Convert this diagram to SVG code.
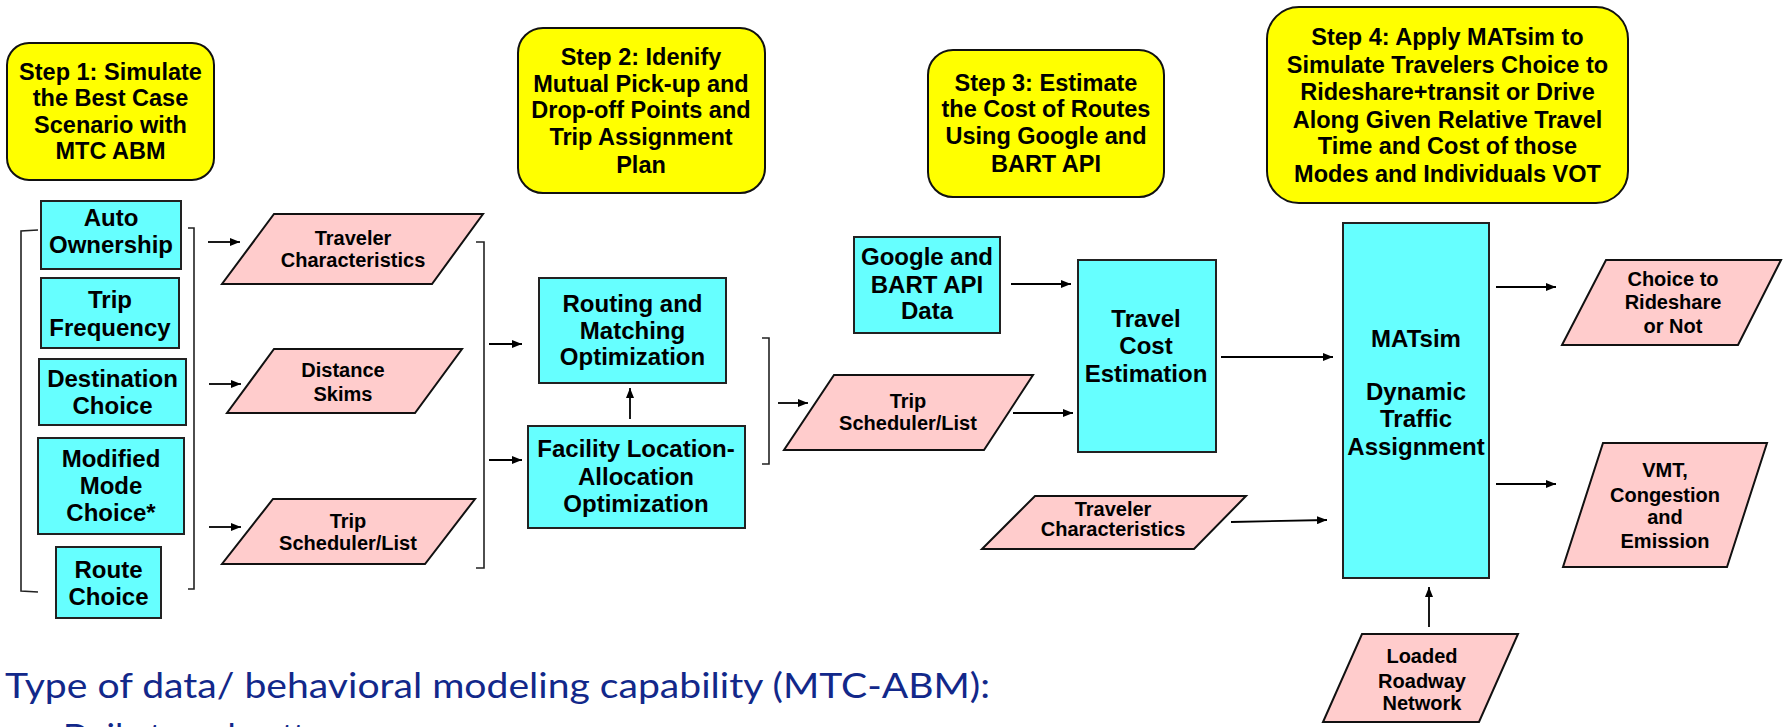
<svg xmlns="http://www.w3.org/2000/svg" width="1783" height="727" viewBox="0 0 1783 727">
<style>
.step{fill:#FFFF00;stroke:#111;stroke-width:2}
.box{fill:#66FFFF;stroke:#222;stroke-width:2}
.para{fill:#FFCCCC;stroke:#111;stroke-width:2}
.t{font-family:"Liberation Sans",Arial,sans-serif;font-weight:bold;font-size:24px;fill:#000;text-anchor:middle}
.ts{font-family:"Liberation Sans",Arial,sans-serif;font-weight:bold;font-size:23.5px;fill:#000;text-anchor:middle}
.tp{font-family:"Liberation Sans",Arial,sans-serif;font-weight:bold;font-size:20px;fill:#000;text-anchor:middle}
.conn{stroke:#000;stroke-width:1.8;fill:none}
.brk{stroke:#222;stroke-width:1.6;fill:none}
.note{font-family:Lato,"Open Sans",sans-serif;font-size:35px;fill:#12288a}
</style>
<defs>
<marker id="ah" markerWidth="10" markerHeight="8" refX="10" refY="4" orient="auto" markerUnits="userSpaceOnUse">
<path d="M0,0 L10,4 L0,8 Z" fill="#000"/>
</marker>
</defs>

<g id="step1"><rect class="step" x="7" y="43" width="207" height="137" rx="22"/>
<text class="ts" x="110.5" y="80">Step 1: Simulate</text><text class="ts" x="110.5" y="106">the Best Case</text><text class="ts" x="110.5" y="133">Scenario with</text><text class="ts" x="110.5" y="159">MTC ABM</text></g>

<g id="step2"><rect class="step" x="518" y="28" width="247" height="165" rx="25"/>
<text class="ts" x="641" y="65">Step 2: Idenify</text><text class="ts" x="641" y="92">Mutual Pick-up and</text><text class="ts" x="641" y="118">Drop-off Points and</text><text class="ts" x="641" y="145">Trip Assignment</text><text class="ts" x="641" y="173">Plan</text></g>

<g id="step3"><rect class="step" x="928" y="50" width="236" height="147" rx="25"/>
<text class="ts" x="1046" y="91">Step 3: Estimate</text><text class="ts" x="1046" y="117">the Cost of Routes</text><text class="ts" x="1046" y="144">Using Google and</text><text class="ts" x="1046" y="172">BART  API</text></g>

<g id="step4"><rect class="step" x="1267" y="7" width="361" height="196" rx="32"/>
<text class="ts" x="1447.5" y="45">Step 4: Apply MATsim to</text><text class="ts" x="1447.5" y="73">Simulate Travelers Choice to</text><text class="ts" x="1447.5" y="100">Rideshare+transit or Drive</text><text class="ts" x="1447.5" y="128">Along Given Relative Travel</text><text class="ts" x="1447.5" y="154">Time and Cost of those</text><text class="ts" x="1447.5" y="182">Modes and Individuals VOT</text></g>

<g id="auto-ownership"><rect class="box" x="41" y="201" width="140" height="68"/>
<text class="t" x="111" y="226">Auto</text><text class="t" x="111" y="253">Ownership</text></g>
<g id="trip-frequency"><rect class="box" x="41" y="278" width="138" height="70"/>
<text class="t" x="110" y="308">Trip</text><text class="t" x="110" y="336">Frequency</text></g>
<g id="destination-choice"><rect class="box" x="39" y="359" width="147" height="66"/>
<text class="t" x="112.5" y="387">Destination</text><text class="t" x="112.5" y="414">Choice</text></g>
<g id="mode-choice"><rect class="box" x="38" y="438" width="146" height="96"/>
<text class="t" x="111" y="467">Modified</text><text class="t" x="111" y="494">Mode</text><text class="t" x="111" y="521">Choice*</text></g>
<g id="route-choice"><rect class="box" x="56" y="547" width="105" height="71"/>
<text class="t" x="108.5" y="578">Route</text><text class="t" x="108.5" y="605">Choice</text></g>

<g id="traveler-char-1"><polygon class="para" points="274,214 483,214 432,284 222,284"/>
<text class="tp" x="353" y="245">Traveler</text><text class="tp" x="353" y="267">Characteristics</text></g>
<g id="distance-skims"><polygon class="para" points="274,349 462,349 415,413 227,413"/>
<text class="tp" x="343" y="377">Distance</text><text class="tp" x="343" y="401">Skims</text></g>
<g id="trip-scheduler-1"><polygon class="para" points="273,499 475,499 425,564 222,564"/>
<text class="tp" x="348" y="528">Trip</text><text class="tp" x="348" y="550">Scheduler/List</text></g>

<g id="routing"><rect class="box" x="539" y="278" width="187" height="105"/>
<text class="t" x="632.5" y="312">Routing and</text><text class="t" x="632.5" y="339">Matching</text><text class="t" x="632.5" y="365">Optimization</text></g>
<g id="facility"><rect class="box" x="528" y="426" width="217" height="102"/>
<text class="t" x="636" y="457">Facility Location-</text><text class="t" x="636" y="485">Allocation</text><text class="t" x="636" y="512">Optimization</text></g>

<g id="trip-scheduler-2"><polygon class="para" points="834,375 1033,375 984,450 784,450"/>
<text class="tp" x="908" y="408">Trip</text><text class="tp" x="908" y="430">Scheduler/List</text></g>

<g id="google"><rect class="box" x="854" y="237" width="146" height="96"/>
<text class="t" x="927" y="265">Google and</text><text class="t" x="927" y="293">BART  API</text><text class="t" x="927" y="319">Data</text></g>

<g id="travel-cost"><rect class="box" x="1078" y="260" width="138" height="192"/>
<text class="t" x="1146" y="327">Travel</text><text class="t" x="1146" y="354">Cost</text><text class="t" x="1146" y="382">Estimation</text></g>

<g id="traveler-char-2"><polygon class="para" points="1035,496 1246,496 1194,549 982,549"/>
<text class="tp" x="1113" y="516">Traveler</text><text class="tp" x="1113" y="536">Characteristics</text></g>

<g id="matsim"><rect class="box" x="1343" y="223" width="146" height="355"/>
<text class="t" x="1416" y="347">MATsim</text><text class="t" x="1416" y="400">Dynamic</text><text class="t" x="1416" y="427">Traffic</text><text class="t" x="1416" y="455">Assignment</text></g>

<g id="choice"><polygon class="para" points="1606,260 1781,260 1738,345 1562,345"/>
<text class="tp" x="1673" y="286">Choice to</text><text class="tp" x="1673" y="309">Rideshare</text><text class="tp" x="1673" y="333">or Not</text></g>
<g id="vmt"><polygon class="para" points="1603,443 1767,443 1727,567 1563,567"/>
<text class="tp" x="1665" y="477">VMT,</text><text class="tp" x="1665" y="502">Congestion</text><text class="tp" x="1665" y="524">and</text><text class="tp" x="1665" y="548">Emission</text></g>
<g id="loaded"><polygon class="para" points="1362,634 1518,634 1479,722 1323,722"/>
<text class="tp" x="1422" y="663">Loaded</text><text class="tp" x="1422" y="688">Roadway</text><text class="tp" x="1422" y="710">Network</text></g>

<g id="connectors">
<path class="brk" d="M38,230 L21,231 L21,591 L38,592"/>
<path class="brk" d="M188,228 L194,228 L194,589 L188,589"/>
<path class="brk" d="M476,242 L484,242 L484,568 L476,568"/>
<path class="brk" d="M762,338 L769,338 L769,464 L762,464"/>
<line class="conn" x1="208" y1="242" x2="240" y2="242" marker-end="url(#ah)"/>
<line class="conn" x1="209" y1="384" x2="241" y2="384" marker-end="url(#ah)"/>
<line class="conn" x1="209" y1="527" x2="241" y2="527" marker-end="url(#ah)"/>
<line class="conn" x1="489" y1="344" x2="522" y2="344" marker-end="url(#ah)"/>
<line class="conn" x1="489" y1="460" x2="522" y2="460" marker-end="url(#ah)"/>
<line class="conn" x1="630" y1="419" x2="630" y2="388" marker-end="url(#ah)"/>
<line class="conn" x1="778" y1="403" x2="808" y2="403" marker-end="url(#ah)"/>
<line class="conn" x1="1011" y1="284" x2="1071" y2="284" marker-end="url(#ah)"/>
<line class="conn" x1="1013" y1="413" x2="1073" y2="413" marker-end="url(#ah)"/>
<line class="conn" x1="1221" y1="357" x2="1333" y2="357" marker-end="url(#ah)"/>
<line class="conn" x1="1231" y1="522" x2="1327" y2="520" marker-end="url(#ah)"/>
<line class="conn" x1="1496" y1="287" x2="1556" y2="287" marker-end="url(#ah)"/>
<line class="conn" x1="1496" y1="484" x2="1556" y2="484" marker-end="url(#ah)"/>
<line class="conn" x1="1429" y1="627" x2="1429" y2="587" marker-end="url(#ah)"/>
</g>

<text class="note" x="5" y="698" textLength="985" lengthAdjust="spacingAndGlyphs">Type of data/ behavioral modeling capability (MTC-ABM):</text>
<text class="note" x="63" y="749">Daily travel patterns</text>
</svg>
